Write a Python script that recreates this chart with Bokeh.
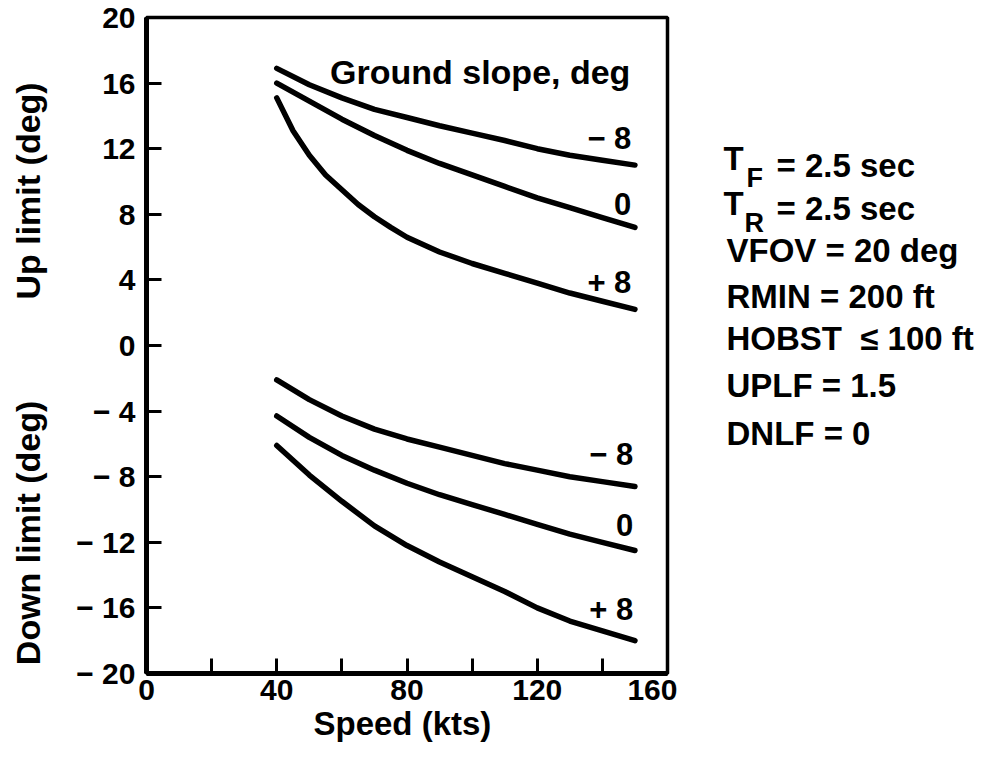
from bokeh.plotting import figure
from bokeh.models import Label, Range1d, FixedTicker
from bokeh.layouts import row
from bokeh.embed import file_html
from bokeh.resources import INLINE
import math

# ---- data ----
speed = [40, 50, 60, 70, 80, 90, 100, 110, 120, 130, 140, 150]
up_minus8 = [16.9, 15.9, 15.1, 14.4, 13.9, 13.4, 12.95, 12.5, 12.0, 11.6, 11.3, 11.0]
up_zero = [16.0, 14.9, 13.8, 12.8, 11.9, 11.1, 10.4, 9.7, 9.0, 8.4, 7.8, 7.2]
# the +8 "up" curve bends sharply, so it was read at more speeds
speed_up_plus8 = [40, 45, 50, 55, 60, 65, 70, 75, 80, 90, 100, 110, 120, 130, 140, 150]
up_plus8 = [15.1, 13.1, 11.6, 10.4, 9.5, 8.6, 7.85, 7.2, 6.6, 5.7, 5.0, 4.4, 3.8, 3.2, 2.7, 2.2]
down_minus8 = [-2.1, -3.3, -4.3, -5.1, -5.7, -6.2, -6.7, -7.2, -7.6, -8.0, -8.3, -8.6]
down_zero = [-4.3, -5.6, -6.7, -7.6, -8.4, -9.1, -9.7, -10.3, -10.9, -11.5, -12.0, -12.5]
down_plus8 = [-6.1, -7.9, -9.5, -11.0, -12.2, -13.2, -14.1, -15.0, -16.0, -16.8, -17.4, -18.0]

x_ticks = [0, 20, 40, 60, 80, 100, 120, 140, 160]
x_tick_labels = ["0", "", "40", "", "80", "", "120", "", "160"]
y_ticks = [20, 16, 12, 8, 4, 0, -4, -8, -12, -16, -20]
y_tick_labels = ["20", "16", "12", "8", "4", "0", "\u2212 4", "\u2212 8", "\u2212 12", "\u2212 16", "\u2212 20"]

curve_labels = ["\u2212 8", "0", "+ 8"]
params = ["VFOV = 20 deg", "RMIN = 200 ft", "HOBST\u00a0 \u2264 100 ft", "UPLF = 1.5", "DNLF = 0"]

FONT = "Liberation Sans"
TOP = 17
FRAME_H = 656
BOTTOM = 73
LEFT_W = 60
MAIN_LEFT = 146 - LEFT_W
FRAME_W = 521
MAIN_RIGHT = 10
RIGHT_W = 979 - LEFT_W - MAIN_LEFT - FRAME_W - MAIN_RIGHT

# ---------------- main plot ----------------
p = figure(frame_width=FRAME_W, frame_height=FRAME_H,
           x_range=Range1d(0, 160), y_range=Range1d(-20, 20),
           output_backend="svg", toolbar_location=None,
           min_border_left=MAIN_LEFT, min_border_right=MAIN_RIGHT,
           min_border_top=TOP, min_border_bottom=0)
p.grid.visible = False
p.background_fill_color = "white"
p.border_fill_color = "white"
p.outline_line_color = "black"
p.outline_line_width = 3.5

for ax, ticks, labels in ((p.xaxis[0], x_ticks, x_tick_labels), (p.yaxis[0], y_ticks, y_tick_labels)):
    ax.ticker = FixedTicker(ticks=ticks)
    ax.major_label_overrides = {t: l for t, l in zip(ticks, labels)}
    ax.axis_line_width = 5
    ax.axis_line_color = "black"
    ax.major_tick_in = 15
    ax.major_tick_out = 0
    ax.major_tick_line_width = 3
    ax.major_tick_line_color = "black"
    ax.minor_tick_line_color = None
    ax.major_label_text_font = FONT
    ax.major_label_text_font_style = "bold"
    ax.major_label_text_font_size = "30px"
    ax.major_label_text_color = "black"
p.xaxis.major_label_standoff = 6
p.yaxis.major_label_standoff = 11
p.xaxis.axis_label = "Speed  (kts)"
p.xaxis.axis_label_text_font = FONT
p.xaxis.axis_label_text_font_style = "bold"
p.xaxis.axis_label_text_font_size = "33px"
p.xaxis.axis_label_text_color = "black"
p.xaxis.axis_label_standoff = 2

for xs, ys in ((speed, up_minus8), (speed, up_zero), (speed_up_plus8, up_plus8),
               (speed, down_minus8), (speed, down_zero), (speed, down_plus8)):
    p.line(xs, ys, line_color="black", line_width=5.5, line_cap="round", line_join="round")


def lab(fig, x, y, text, size="33px", align="left", baseline="alphabetic", angle=0.0):
    fig.add_layout(Label(x=x, y=y, text=text, text_font=FONT, text_font_style="bold",
                         text_font_size=size, text_align=align, text_baseline=baseline,
                         text_color="black", angle=angle))


lab(p, 148.6, 16.7, "Ground slope, deg", size="34px", align="right", baseline="middle")
for t, yv in zip(curve_labels, (12.6, 8.6, 3.85)):
    lab(p, 148.9, yv, t, size="31px", align="right", baseline="middle")
for t, yv in zip(curve_labels, (-6.67, -10.95, -16.1)):
    lab(p, 149.5, yv, t, size="31px", align="right", baseline="middle")


def side_fig(w):
    # ranges chosen so that one unit is about one page pixel inside this panel
    f = figure(frame_width=w, frame_height=FRAME_H,
               x_range=Range1d(0, w), y_range=Range1d(TOP + FRAME_H, TOP),
               output_backend="svg", toolbar_location=None,
               min_border_left=0, min_border_right=0, min_border_top=TOP, min_border_bottom=BOTTOM)
    f.axis.visible = False
    f.grid.visible = False
    f.outline_line_color = None
    f.background_fill_color = "white"
    f.border_fill_color = "white"
    return f


# ---------------- left: y axis titles ----------------
left = side_fig(LEFT_W)
lab(left, 27, 181, "Up  limit  (deg)", size="34px", align="center", baseline="middle", angle=math.pi / 2)
lab(left, 27, 523, "Down  limit  (deg)", size="34px", align="center", baseline="middle", angle=math.pi / 2)

# ---------------- right: parameter block ----------------
right = side_fig(RIGHT_W)
x0 = LEFT_W + MAIN_LEFT + FRAME_W + MAIN_RIGHT
dyo = -12
lab(right, 723 - x0, 170 + dyo, "T", size="33px")
lab(right, 746 - x0, 189 + dyo, "F", size="27px")
lab(right, 776 - x0, 177 + dyo, "= 2.5 sec", size="33px")
lab(right, 723 - x0, 215 + dyo, "T", size="33px")
lab(right, 744 - x0, 234 + dyo, "R", size="27px")
lab(right, 776 - x0, 220 + dyo, "= 2.5 sec", size="33px")
for t, py in zip(params, (262, 308, 350, 397, 445)):
    lab(right, 726 - x0, py + dyo, t, size="33px")

layout = row(left, p, right)
open("out.html", "w").write(file_html(layout, INLINE))
